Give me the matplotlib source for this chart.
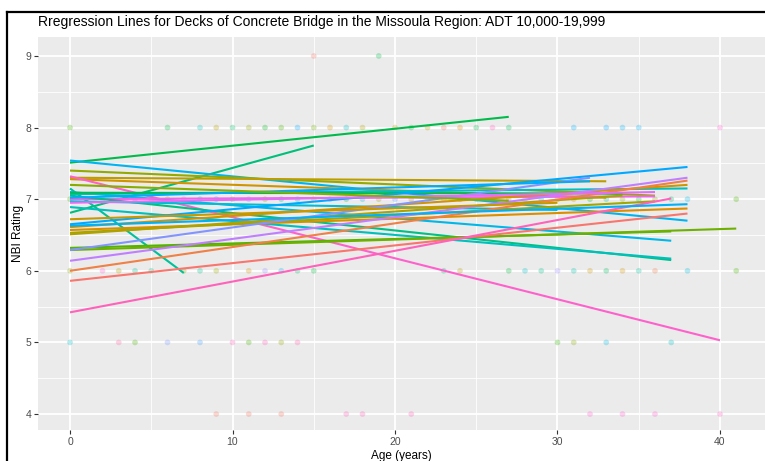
import numpy as np
import matplotlib
matplotlib.use("Agg")
import matplotlib.pyplot as plt
from matplotlib.lines import Line2D

plt.rcParams['font.family'] = ['Liberation Sans', 'DejaVu Sans']

# regression lines: each starts at age 0, ends at line_end_age
line_start = [7.51, 6.81, 7.54, 7.40, 7.30, 7.28, 7.32, 7.15, 7.10, 7.07, 7.09, 7.00,
              7.05, 6.89, 6.97, 6.65, 6.61, 6.57, 6.53, 6.51, 6.32, 6.29, 6.29, 6.14,
              6.00, 5.86, 5.42, 6.63, 7.02, 6.95, 6.72, 7.20]
line_end_age = [27, 15, 38, 36, 33, 33, 40, 7, 37, 38, 34, 36,
                37, 37, 30, 38, 38, 38, 36, 34, 37, 41, 32, 38,
                38, 38, 37, 38, 32, 36, 30, 27]
line_end = [8.15, 7.75, 6.70, 7.05, 7.25, 7.02, 5.03, 5.97, 6.42, 7.15, 7.08, 7.04,
            6.15, 6.17, 6.85, 7.45, 7.20, 6.87, 6.97, 7.05, 6.55, 6.59, 7.30, 7.30,
            7.26, 6.80, 7.01, 6.93, 7.25, 7.10, 6.95, 6.98]
line_hue = [140, 158, 225, 95, 72, 58, 330, 172, 218, 192, 145, 312,
            162, 190, 205, 240, 55, 48, 88, 80, 118, 110, 262, 282,
            28, 15, 340, 230, 235, 300, 65, 100]

# observed ratings (faint points)
pt_age = ([15, 19] +
          [0, 6, 8, 9, 10, 11, 12, 13, 14, 15, 16, 17, 18, 20, 21, 22, 23, 24, 25, 26, 27,
           31, 33, 34, 35, 40] +
          list(range(0, 39)) + [41] +
          [0, 2, 3, 4, 5, 7, 8, 9, 11, 12, 13, 14, 15, 23, 24, 27, 28, 29, 30, 31, 32, 33,
           34, 35, 36, 38, 41] +
          [0, 3, 4, 6, 8, 10, 11, 12, 13, 14, 30, 31, 33, 37] +
          [9, 11, 13, 17, 18, 21, 32, 34, 36, 40])
pt_rating = ([9] * 2 + [8] * 26 + [7] * 40 + [6] * 27 + [5] * 14 + [4] * 10)
pt_hue = ([15, 140] +
          [120, 140, 190, 75, 150, 95, 130, 120, 240, 110, 55, 195, 80, 60, 135, 75, 15, 45,
           140, 340, 145, 235, 240, 225, 230, 330] +
          [120, 240, 300, 200, 150, 90, 60, 330, 180, 230, 120, 270, 100, 160, 210, 45, 310,
           140, 200, 95, 250, 65, 175, 330, 120, 230, 150, 80, 290, 190, 110, 55, 135, 175,
           100, 140, 105, 150, 220, 120] +
          [100, 330, 80, 170, 165, 110, 165, 90, 55, 270, 225, 150, 135, 160, 75, 135, 195,
           165, 270, 180, 60, 145, 55, 175, 25, 210, 120] +
          [195, 350, 120, 260, 250, 340, 120, 340, 95, 345, 125, 100, 215, 195] +
          [20, 20, 20, 340, 340, 340, 330, 330, 330, 335])


def hcl(h, c=100, l=65):
    # ggplot-style hue colour (CIE Luv -> sRGB)
    xn, yn, zn = 95.047, 100.0, 108.883
    un = 4 * xn / (xn + 15 * yn + 3 * zn)
    vn = 9 * yn / (xn + 15 * yn + 3 * zn)
    hr = np.deg2rad(h)
    u, v = c * np.cos(hr), c * np.sin(hr)
    Y = yn * ((l + 16) / 116) ** 3
    up = u / (13 * l) + un
    vp = v / (13 * l) + vn
    X = Y * 9 * up / (4 * vp)
    Z = Y * (12 - 3 * up - 20 * vp) / (4 * vp)
    X, Y, Z = X / 100, Y / 100, Z / 100
    rgb = np.array([3.2404542 * X - 1.5371385 * Y - 0.4985314 * Z,
                    -0.9692660 * X + 1.8760108 * Y + 0.0415560 * Z,
                    0.0556434 * X - 0.2040259 * Y + 1.0572252 * Z])
    rgb = np.where(rgb <= 0.0031308, 12.92 * rgb, 1.055 * np.abs(rgb) ** (1 / 2.4) - 0.055)
    return tuple(np.clip(rgb, 0, 1))


fig = plt.figure(figsize=(7.65, 4.61), dpi=100)
ax = fig.add_axes([38 / 765, 1 - 430 / 461, 1 - 38 / 765, (430 - 37) / 461])
ax.set_facecolor('#EBEBEB')

ax.scatter(pt_age, pt_rating, s=17, c=[hcl(h) for h in pt_hue], alpha=0.28,
           linewidths=0, zorder=2)

for y0, xe, ye, h in zip(line_start, line_end_age, line_end, line_hue):
    ax.plot([0, xe], [y0, ye], color=hcl(h), lw=1.5, zorder=3, solid_capstyle='butt')

ax.set_xlim(-1.97, 42.77)
ax.set_ylim(3.777, 9.265)
ax.set_xticks([0, 10, 20, 30, 40])
ax.set_yticks([4, 5, 6, 7, 8, 9])
ax.set_xticks([5, 15, 25, 35], minor=True)
ax.set_yticks([4.5, 5.5, 6.5, 7.5, 8.5], minor=True)
ax.grid(which='major', color='white', lw=1.3, zorder=0)
ax.grid(which='minor', color='white', lw=0.6, zorder=0)
ax.set_axisbelow(True)
for s in ax.spines.values():
    s.set_visible(False)
ax.tick_params(which='major', length=3, width=0.8, color='#333333', labelcolor='#4D4D4D',
               labelsize=7.5, pad=2)
ax.tick_params(which='minor', length=0)

ax.set_xlabel('Age (years)', fontsize=8.5, color='black', labelpad=2)
ax.set_ylabel('NBI Rating', fontsize=8.5, color='black', labelpad=1)
fig.text(38 / 765, 1 - 22 / 461, 'Rregression Lines for Decks of Concrete Bridge in the Missoula Region: ADT 10,000-19,999',
         fontsize=10, va='center', ha='left', color='black')

# frame of the screenshot
fig.add_artist(Line2D([7 / 765, 7 / 765], [0, 1 - 12 / 461], color='black', lw=1.6))
fig.add_artist(Line2D([7 / 765, 1], [1 - 12 / 461, 1 - 12 / 461], color='black', lw=1.6))

fig.savefig('out.png', dpi=100)
